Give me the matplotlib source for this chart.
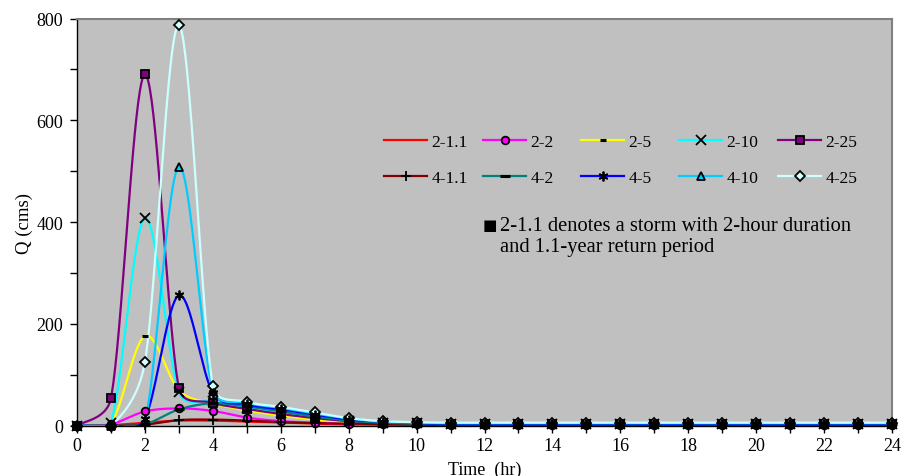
import numpy as np
import matplotlib
matplotlib.use("Agg")
import matplotlib.pyplot as plt
from matplotlib.lines import Line2D
from matplotlib.ticker import MultipleLocator

plt.rcParams['font.family'] = ['Liberation Serif', 'DejaVu Serif']

hours = list(range(0, 25))

labels = ["2-1.1", "2-2", "2-5", "2-10", "2-25",
          "4-1.1", "4-2", "4-5", "4-10", "4-25"]

q_2_1_1 = [0, 1, 6, 10, 10, 8, 6, 4, 3, 2, 1.5, 1.2, 1, 1, 1, 1, 1, 1, 1, 1, 1, 1, 1, 1, 1]
q_2_2 = [0, 3, 28, 34, 29, 16, 9, 6, 4, 3, 2.5, 2, 2, 2, 2, 2, 2, 2, 2, 2, 2, 2, 2, 2, 2]
q_2_5 = [0, 4, 176, 70, 44, 30, 20, 12, 7, 5, 4, 3, 3, 3, 3, 3, 3, 3, 3, 3, 3, 3, 3, 3, 3]
q_2_10 = [0, 6, 408, 66, 48, 35, 25, 16, 9, 6, 4.5, 4, 4, 4, 4, 4, 4, 4, 4, 4, 4, 4, 4, 4, 4]
q_2_25 = [0, 54, 690, 74, 45, 33, 23, 15, 9, 6, 5, 4, 4, 4, 4, 4, 4, 4, 4, 4, 4, 4, 4, 4, 4]
q_4_1_1 = [0, 0, 2, 11, 12, 10, 7, 5, 4, 3, 2, 1.5, 1.2, 1, 1, 1, 1, 1, 1, 1, 1, 1, 1, 1, 1]
q_4_2 = [0, 0, 3, 32, 44, 38, 28, 18, 10, 6, 4, 3, 3, 3, 3, 3, 3, 3, 3, 3, 3, 3, 3, 3, 3]
q_4_5 = [0, 0, 14, 256, 65, 42, 32, 22, 12, 8, 5, 4, 4, 4, 4, 4, 4, 4, 4, 4, 4, 4, 4, 4, 4]
q_4_10 = [0, 0, 8, 509, 70, 45, 35, 24, 14, 8, 6, 5, 5, 5, 5, 5, 5, 5, 5, 5, 5, 5, 5, 5, 5]
q_4_25 = [0, 0, 125, 787, 78, 47, 37, 26, 15, 9, 7, 6, 6, 6, 6, 6, 6, 6, 6, 6, 6, 6, 6, 6, 6]

series = [q_2_1_1, q_2_2, q_2_5, q_2_10, q_2_25,
          q_4_1_1, q_4_2, q_4_5, q_4_10, q_4_25]

colors = ["#FF0000", "#FF00FF", "#FFFF00", "#00FFFF", "#800080",
          "#800000", "#008080", "#0000FF", "#00CCFF", "#CCFFFF"]
markers = [None, "o", "_", "x", "s", "+", "_", (6, 2, 0), "^", "D"]
msizes = [0, 5.5, 5, 6.5, 6, 7, 7, 7, 6, 5]

# axes geometry (pixels)
AX_L, AX_R, AX_T, AX_B = 77, 892, 19.5, 426.7
XMAX, YMAX = 24, 800
SX = (AX_R - AX_L) / XMAX
SY = (AX_B - AX_T) / YMAX


def smooth(x, y, n=40):
    """Excel-like smoothed line: cubic Bezier per segment, control offsets
    (1/6 of neighbour chord, in screen space) capped at half the segment."""
    P = np.column_stack([np.asarray(x, float) * SX, np.asarray(y, float) * SY])
    m = len(P)
    t = np.linspace(0, 1, n, endpoint=False)[:, None]

    def tangent(i):
        p0 = P[max(i - 1, 0)]
        p2 = P[min(i + 1, m - 1)]
        v = p2 - p0
        d = np.hypot(*v)
        return (v / d if d > 0 else np.zeros(2)), d

    pts = []
    for i in range(m - 1):
        a, d_ = P[i], P[i + 1]
        seg_len = np.hypot(*(d_ - a))
        u0, d0 = tangent(i)
        u1, d1 = tangent(i + 1)
        b = a + u0 * min(d0 / 6, seg_len / 2)
        c = d_ - u1 * min(d1 / 6, seg_len / 2)
        seg = ((1 - t) ** 3) * a + 3 * ((1 - t) ** 2) * t * b + 3 * (1 - t) * t ** 2 * c + t ** 3 * d_
        pts.append(seg)
    pts.append(P[-1:])
    pts = np.vstack(pts)
    return pts[:, 0] / SX, pts[:, 1] / SY


fig = plt.figure(figsize=(9.08, 4.77), dpi=100)
ax = fig.add_axes([AX_L / 908, 1 - AX_B / 477, (AX_R - AX_L) / 908, (AX_B - AX_T) / 477])
ax.set_facecolor("#C0C0C0")

hollow = {"o", "s", "^", "D"}
handles = []
for k, (ys, col, mk, ms, lab) in enumerate(zip(series, colors, markers, msizes, labels)):
    sx, sy = smooth(hours, ys)
    ax.plot(sx, sy, color=col, lw=1.6, zorder=2)
    mew = 2.2 if mk == "_" else 1.3
    if mk is not None:
        z = 3 if (isinstance(mk, str) and mk in hollow) else 3.5
        ax.plot(hours, ys, linestyle="none", marker=mk, ms=ms, mec="black",
                mfc=col, mew=mew, zorder=z, clip_on=False)
    handles.append(Line2D([0], [0], color=col, lw=1.6, marker=mk, ms=ms,
                          mec="black", mfc=col, mew=mew))

ax.set_xlim(0, XMAX)
ax.set_ylim(0, YMAX)
ax.xaxis.set_major_locator(MultipleLocator(2))
ax.xaxis.set_minor_locator(MultipleLocator(1))
ax.yaxis.set_major_locator(MultipleLocator(200))
ax.yaxis.set_minor_locator(MultipleLocator(100))
ax.tick_params(axis="both", which="major", direction="out", length=5, width=1,
               labelsize=13, color="black", pad=3)
ax.tick_params(axis="y", which="major", pad=5)
ax.tick_params(axis="both", which="minor", direction="out", length=5, width=1,
               color="black")
for s in ["left", "bottom"]:
    ax.spines[s].set_color("black")
    ax.spines[s].set_linewidth(1)
for s in ["top", "right"]:
    ax.spines[s].set_color("#808080")
    ax.spines[s].set_linewidth(1.5)

ax.set_ylabel("Q (cms)", fontsize=13.5)
ax.yaxis.set_label_coords((33 - AX_L) / (AX_R - AX_L), 0.5)
ax.set_xlabel("Time  (hr)", fontsize=13)
ax.xaxis.set_label_coords(0.5, -0.085)

# legend: 5 columns, 2 rows
col_x = [384, 483, 581, 679, 778]
for c in range(5):
    hs = [handles[c], handles[c + 5]]
    ls = [labels[c], labels[c + 5]]
    leg = ax.legend(hs, ls, loc="upper left",
                    bbox_to_anchor=(col_x[c] / 908, 1 - 135 / 477),
                    bbox_transform=fig.transFigure, frameon=False,
                    fontsize=12.5, handlelength=2.5, handletextpad=0.25,
                    labelspacing=1.12, borderpad=0, borderaxespad=0)
    if c < 4:
        ax.add_artist(leg)

fig.text(483 / 908, 1 - 226 / 477, "\u25A0", fontsize=11,
         family=["DejaVu Sans"], va="center", ha="left")
fig.text(500 / 908, 1 - 237 / 477,
         "2-1.1 denotes a storm with 2-hour duration\nand 1.1-year return period",
         fontsize=14.8, va="center", ha="left", linespacing=1.1)

fig.savefig("out.png", dpi=100)
